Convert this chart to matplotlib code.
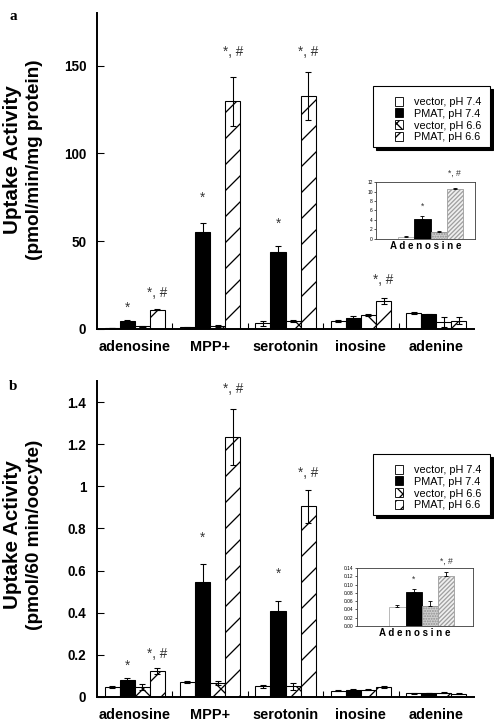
import matplotlib
matplotlib.use('Agg')
from matplotlib import pyplot as plt
from matplotlib.patches import Rectangle, Patch
from matplotlib.ticker import FuncFormatter
import numpy as np

# chart data
groups = ['adenosine', 'MPP+', 'serotonin', 'inosine', 'adenine']
series = ['vector, pH 7.4', 'PMAT, pH 7.4', 'vector, pH 6.6', 'PMAT, pH 6.6']

# panel a (pmol/min/mg protein)
a_vec74 = [0.5, 1.0, 3.2, 4.4, 8.9]
a_pmat74 = [4.4, 55.5, 43.7, 6.5, 8.5]
a_vec66 = [1.5, 1.5, 4.7, 8.0, 4.2]
a_pmat66 = [10.9, 129.6, 132.8, 15.8, 4.7]
a_vec74_err = [0.2, 0.3, 1.4, 0.6, 0.5]
a_pmat74_err = [0.6, 4.8, 3.8, 0.7, 0.3]
a_vec66_err = [0.3, 0.5, 0.5, 0.8, 2.8]
a_pmat66_err = [0.3, 14.0, 13.5, 1.7, 2.0]
a_star_y = [12, 75, 60]            # '*' over PMAT pH 7.4: adenosine, MPP+, serotonin
a_starhash_y = [20.5, 158, 158, 28]  # '*, #' over PMAT pH 6.6: adenosine, MPP+, serotonin, inosine

# inset a (adenosine)
a_inset_vals = [0.5, 4.2, 1.5, 10.6]
a_inset_err = [0.15, 0.6, 0.25, 0.2]
a_inset_marks = [7.0, 13.9]

# panel b (pmol/60 min/oocyte)
b_vec74 = [0.046, 0.072, 0.050, 0.030, 0.017]
b_pmat74 = [0.082, 0.545, 0.410, 0.034, 0.019]
b_vec66 = [0.048, 0.065, 0.050, 0.035, 0.020]
b_pmat66 = [0.122, 1.232, 0.905, 0.047, 0.015]
b_vec74_err = [0.004, 0.004, 0.007, 0.003, 0.002]
b_pmat74_err = [0.008, 0.088, 0.048, 0.003, 0.002]
b_vec66_err = [0.013, 0.010, 0.015, 0.003, 0.002]
b_pmat66_err = [0.015, 0.133, 0.078, 0.004, 0.002]
b_star_y = [0.147, 0.757, 0.586]
b_starhash_y = [0.206, 1.46, 1.065]

# inset b (adenosine)
b_inset_vals = [0.046, 0.081, 0.048, 0.120]
b_inset_err = [0.004, 0.008, 0.012, 0.010]
b_inset_marks = [0.113, 0.156]

DPI = 78
plt.rcParams['font.family'] = ['Liberation Sans', 'DejaVu Sans']
plt.rcParams['hatch.linewidth'] = 1.2

fig = plt.figure(figsize=(494 / DPI, 728 / DPI), dpi=DPI)
W, H = 494.0, 728.0

styles = [
    dict(facecolor='white', hatch=None),
    dict(facecolor='black', hatch=None),
    dict(facecolor='white', hatch='x'),
    dict(facecolor='white', hatch='/'),
]
legend_hatches = [None, None, 'xx', '//']
inset_styles = [
    dict(facecolor='white', edgecolor='#b0b0b0', hatch=None),
    dict(facecolor='black', edgecolor='black', hatch=None),
    dict(facecolor='#d0d0d0', edgecolor='#909090', hatch='.....'),
    dict(facecolor='#f0f0f0', edgecolor='#a0a0a0', hatch='//////'),
]


def ax_rect(left, top, right, bottom):
    return [left / W, 1 - bottom / H, (right - left) / W, (bottom - top) / H]


def main_panel(rect, vals, errs, ylim, yticks, star_y, starhash_y, fmt):
    ax = fig.add_axes(rect)
    x = np.arange(len(groups))
    offsets = [-0.3, -0.1, 0.1, 0.3]
    for i in range(4):
        ax.bar(x + offsets[i], vals[i], 0.2, edgecolor='black', linewidth=1.0,
               **styles[i], zorder=2)
        ax.errorbar(x + offsets[i], vals[i], yerr=errs[i], fmt='none',
                    ecolor='black', elinewidth=1.0, capsize=3, capthick=1.0, zorder=3)
    # significance marks
    for k, yy in enumerate(star_y):
        ax.text(x[k] + offsets[1], yy, '*', ha='center', va='center',
                fontsize=12.5, color='#333333')
    for k, yy in enumerate(starhash_y):
        ax.text(x[k] + offsets[3], yy, '*, #', ha='center', va='center',
                fontsize=12.5, color='#333333')
    ax.set_xlim(-0.5, 4.5)
    ax.set_ylim(*ylim)
    ax.set_yticks(yticks)
    ax.yaxis.set_major_formatter(FuncFormatter(fmt))
    ax.set_xticks(x)
    ax.set_xticklabels(groups, fontsize=13.4, fontweight='bold')
    ax.set_xticks(x[:-1] + 0.5, minor=True)
    ax.tick_params(axis='x', which='major', length=0, pad=10)
    ax.tick_params(axis='x', which='minor', direction='in', length=6, width=1)
    ax.tick_params(axis='y', direction='in', length=6, width=1, pad=10,
                   labelsize=12.5)
    for lab in ax.get_yticklabels():
        lab.set_fontweight('bold')
    for s in ['top', 'right']:
        ax.spines[s].set_visible(False)
    ax.spines['left'].set_linewidth(1.8)
    ax.spines['bottom'].set_linewidth(1.8)
    return ax


def inset_panel(rect, vals, errs, ylim, yticks, marks, xlim, fmt):
    ax = fig.add_axes(rect)
    x = np.arange(4)
    for i in range(4):
        ax.bar(x[i], vals[i], 1.0, linewidth=0.8, **inset_styles[i], zorder=2)
    ax.errorbar(x, vals, yerr=[np.zeros(4), errs], fmt='none', ecolor='black',
                elinewidth=0.8, capsize=1.5, capthick=0.8, zorder=3)
    ax.text(x[1], marks[0], '*', ha='center', va='center', fontsize=8,
            color='#333333')
    ax.text(x[3], marks[1], '*, #', ha='center', va='center', fontsize=8,
            color='#333333', clip_on=False)
    ax.set_xlim(*xlim)
    ax.set_ylim(*ylim)
    ax.set_xticks([])
    ax.set_yticks(yticks)
    ax.yaxis.set_major_formatter(FuncFormatter(fmt))
    ax.tick_params(axis='y', length=2, width=0.6, pad=1, labelsize=4.5)
    for s in ax.spines.values():
        s.set_linewidth(0.8)
        s.set_edgecolor('#404040')
    ax.set_xlabel(' '.join('Adenosine'), fontsize=9, fontweight='bold', labelpad=2)
    return ax


def legend_box(left, top, right, bottom):
    fig.patches.append(Rectangle((left / W + 3 / W, 1 - bottom / H - 3 / H),
                                 (right - left) / W, (bottom - top) / H,
                                 transform=fig.transFigure, facecolor='black',
                                 edgecolor='black', zorder=5))
    fig.patches.append(Rectangle((left / W, 1 - bottom / H),
                                 (right - left) / W, (bottom - top) / H,
                                 transform=fig.transFigure, facecolor='white',
                                 edgecolor='black', linewidth=1.0, zorder=6))
    handles = [Patch(edgecolor='black', linewidth=0.8,
                     facecolor=styles[i]['facecolor'], hatch=legend_hatches[i])
               for i in range(4)]
    leg = fig.legend(handles, series, loc='upper left',
                     bbox_to_anchor=((left + 14) / W, 1 - (top + 3) / H),
                     frameon=False, fontsize=10, handlelength=0.8,
                     handleheight=0.9, handletextpad=1.0, labelspacing=0.15,
                     borderpad=0.2)
    leg.set_zorder(7)


def ylabel(ycenter, line1, line2):
    fig.text(13 / W, 1 - ycenter / H, line1, rotation=90, ha='center',
             va='center', fontsize=19, fontweight='bold')
    fig.text(35 / W, 1 - ycenter / H, line2, rotation=90, ha='center',
             va='center', fontsize=17.5, fontweight='bold')


fmt_int = lambda v, p: '%d' % v
fmt_g = lambda v, p: '%g' % v

# panel a
main_panel(ax_rect(97, 13, 474, 329),
           [a_vec74, a_pmat74, a_vec66, a_pmat66],
           [a_vec74_err, a_pmat74_err, a_vec66_err, a_pmat66_err],
           (0, 180), [0, 50, 100, 150], a_star_y, a_starhash_y, fmt_int)
ylabel(160, 'Uptake Activity', '(pmol/min/mg protein)')
inset_panel(ax_rect(376, 182, 475, 239), a_inset_vals, a_inset_err, (0, 12),
            range(0, 13, 2), a_inset_marks, (-1.87, 4.25), fmt_int)
legend_box(373, 86, 490, 147)

# panel b
main_panel(ax_rect(97, 381, 474, 697),
           [b_vec74, b_pmat74, b_vec66, b_pmat66],
           [b_vec74_err, b_pmat74_err, b_vec66_err, b_pmat66_err],
           (0, 1.5), [0, 0.2, 0.4, 0.6, 0.8, 1.0, 1.2, 1.4],
           b_star_y, b_starhash_y, fmt_g)
ylabel(535, 'Uptake Activity', '(pmol/60 min/oocyte)')
inset_panel(ax_rect(357, 568, 473, 626), b_inset_vals, b_inset_err, (0, 0.14),
            np.arange(0, 0.141, 0.02), b_inset_marks, (-2.5, 4.67),
            lambda v, p: '%.2f' % v)
legend_box(373, 454, 490, 515)

# panel letters
fig.text(13 / W, 1 - 16 / H, 'a', fontsize=14, fontweight='bold',
         family='Liberation Serif', ha='center', va='center')
fig.text(13 / W, 1 - 387 / H, 'b', fontsize=14, fontweight='bold',
         family='Liberation Serif', ha='center', va='center')

fig.savefig('out.png', dpi=DPI)
